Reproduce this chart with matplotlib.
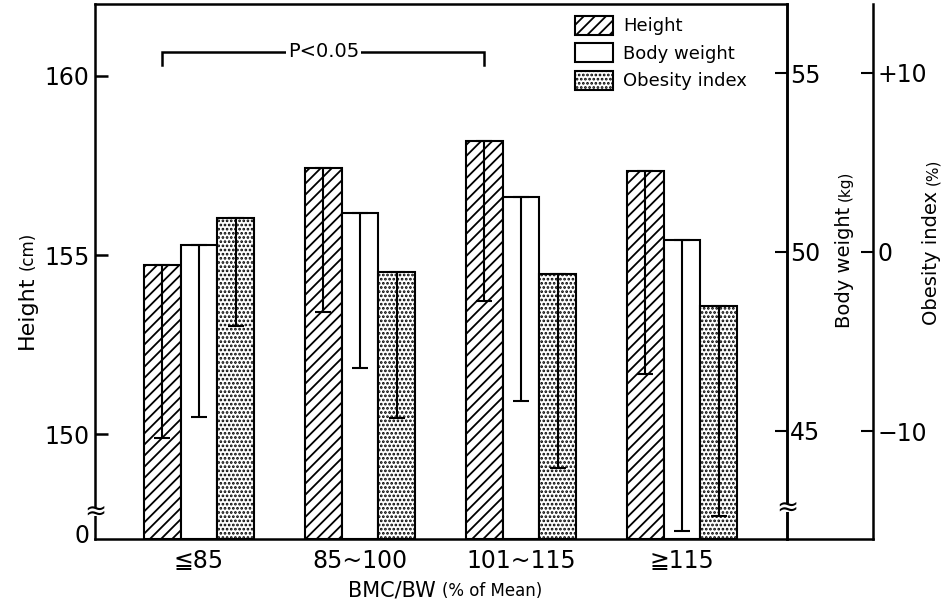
import matplotlib
matplotlib.use('Agg')
import matplotlib.pyplot as plt
import numpy as np
from matplotlib.patches import Patch, Rectangle
from matplotlib.lines import Line2D

plt.rcParams['font.family'] = ['DejaVu Sans', 'Noto Sans CJK JP']
plt.rcParams['hatch.linewidth'] = 1.3

# ---------------- data ----------------
categories = ['≦85', '85~100', '101~115', '≧115']
height_mean = [154.72, 157.43, 158.19, 157.35]   # cm
height_sd = [4.83, 4.02, 4.47, 5.67]
weight_mean = [50.20, 51.10, 51.54, 50.34]       # kg
weight_sd = [4.81, 4.34, 5.70, 8.13]
obesity_mean = [1.90, -1.12, -1.21, -3.02]       # %
obesity_sd = [6.03, 8.15, 10.84, 11.71]

height_ticks = [150, 155, 160]
weight_ticks = [45, 50, 55]
obesity_ticks = [-10, 0, 10]
obesity_ticklabels = ['\u221210', '0', '+10']

H_LIM = (147.07, 162.01)
W_LIM = (41.98, 56.93)
O_LIM = (-16.03, 13.85)

W_PX, H_PX = 945, 604
fig = plt.figure(figsize=(W_PX / 100, H_PX / 100), dpi=100)
ax = fig.add_axes([95 / W_PX, 65 / H_PX, 692 / W_PX, 535 / H_PX])
ax2 = ax.twinx()
ax3 = ax.twinx()

x = np.arange(len(categories))
w = 0.227
LW = 1.5
SP = 1.8

ax.bar(x - w, np.array(height_mean) - H_LIM[0], bottom=H_LIM[0], width=w,
       color='white', edgecolor='black', hatch='///', linewidth=LW, zorder=2)
ax.errorbar(x - w, height_mean, yerr=[height_sd, np.zeros(len(x))], fmt='none',
            ecolor='black', elinewidth=1.5, capsize=6, capthick=1.5, zorder=3)

ax2.bar(x, np.array(weight_mean) - W_LIM[0], bottom=W_LIM[0], width=w,
        color='white', edgecolor='black', linewidth=LW, zorder=2)
ax2.errorbar(x, weight_mean, yerr=[weight_sd, np.zeros(len(x))], fmt='none',
             ecolor='black', elinewidth=1.5, capsize=6, capthick=1.5, zorder=3)

ax3.bar(x + w, np.array(obesity_mean) - O_LIM[0], bottom=O_LIM[0], width=w,
        color='white', edgecolor='black', hatch='....', linewidth=LW, zorder=2)
ax3.errorbar(x + w, obesity_mean, yerr=[obesity_sd, np.zeros(len(x))], fmt='none',
             ecolor='black', elinewidth=1.5, capsize=6, capthick=1.5, zorder=3)

ax.set_xlim(-0.646, 3.652)
ax.set_ylim(*H_LIM)
ax2.set_ylim(*W_LIM)
ax3.set_ylim(*O_LIM)

ax.set_xticks(x, categories)
ax.tick_params(axis='x', length=0, labelsize=17, pad=7)

ax.set_yticks([H_LIM[0] + 0.14] + height_ticks, ['0'] + [str(t) for t in height_ticks])
ax.tick_params(axis='y', direction='in', length=9, width=1.8, labelsize=17, pad=4)
ax.yaxis.get_major_ticks()[0].tick1line.set_visible(False)

ax2.set_yticks(weight_ticks, [str(t) for t in weight_ticks])
ax2.tick_params(axis='y', direction='in', length=9, width=1.5, labelsize=17, pad=2)

ax3.set_yticks(obesity_ticks, obesity_ticklabels)
ax3.tick_params(axis='y', direction='in', length=9, width=1.5, labelsize=17, pad=3)

for s in ax.spines.values():
    s.set_linewidth(SP)
for a in (ax2, ax3):
    for k in ('left', 'top', 'bottom'):
        a.spines[k].set_visible(False)
ax2.spines['right'].set_linewidth(SP)
ax3.spines['right'].set_position(('axes', 778 / 692))
ax3.spines['right'].set_linewidth(SP)

# baseline extension to the outer axis
fig.add_artist(Line2D([1.0, 778 / 692], [0, 0], transform=ax.transAxes,
                      color='black', lw=SP, solid_capstyle='projecting'))

# axis break marks
for bx, by in [(0.0, (539 - 512) / 535), (1.0, (539 - 508) / 535)]:
    fig.add_artist(Rectangle((bx - 0.008, by - 0.008), 0.016, 0.016,
                             transform=ax.transAxes, fc='white', ec='none', zorder=10))
    fig.text(0, 0, '\u2248', transform=ax.transAxes, fontsize=19,
             ha='center', va='center', zorder=11).set_position((bx, by))

# significance bracket (Height: first vs third group)
bx0, bx1 = x[0] - w, x[2] - w
by_top, by_bot = 160.67, 160.31
ax.plot([bx0, bx0, bx1, bx1], [by_bot, by_top, by_top, by_bot], color='black',
        lw=1.8, solid_joinstyle='miter', zorder=4)
ax.text((bx0 + bx1) / 2, by_top, 'P<0.05', ha='center', va='center', fontsize=14,
        zorder=5, bbox=dict(boxstyle='square,pad=0.1', fc='white', ec='none'))

# legend
handles = [Patch(facecolor='white', edgecolor='black', hatch='///', linewidth=LW),
           Patch(facecolor='white', edgecolor='black', linewidth=LW),
           Patch(facecolor='white', edgecolor='black', hatch='....', linewidth=LW)]
fig.legend(handles, ['Height', 'Body weight', 'Obesity index'],
           loc='upper left', bbox_to_anchor=(575 / W_PX, 1 - 16 / H_PX),
           bbox_transform=fig.transFigure, frameon=False, fontsize=13,
           handlelength=2.1, handleheight=1.22, handletextpad=0.55,
           labelspacing=0.44, borderpad=0, borderaxespad=0)

# multi-size labels
renderer = fig.canvas.get_renderer()


def chain_vertical(pieces, x_px, y_start_px, gap=6):
    y = H_PX - y_start_px
    for txt, size in pieces:
        t = fig.text(x_px / W_PX, y / H_PX, txt, fontsize=size, rotation=90,
                     rotation_mode='anchor', ha='left', va='baseline')
        bb = t.get_window_extent(renderer)
        y = bb.y1 + gap


def chain_horizontal(pieces, x_start_px, y_px, gap=6):
    xx = x_start_px
    for txt, size in pieces:
        t = fig.text(xx / W_PX, 1 - y_px / H_PX, txt, fontsize=size,
                     ha='left', va='baseline')
        bb = t.get_window_extent(renderer)
        xx = bb.x1 + gap


chain_vertical([('Height', 16), ('(cm)', 12)], 33, 349)
chain_vertical([('Body weight', 14), ('(kg)', 11)], 850, 328)
chain_vertical([('Obesity index', 14), ('(%)', 11)], 937, 325)
chain_horizontal([('BMC/BW', 15), ('(% of Mean)', 12)], 348, 596)

fig.savefig('out.png', dpi=100, facecolor='white')
